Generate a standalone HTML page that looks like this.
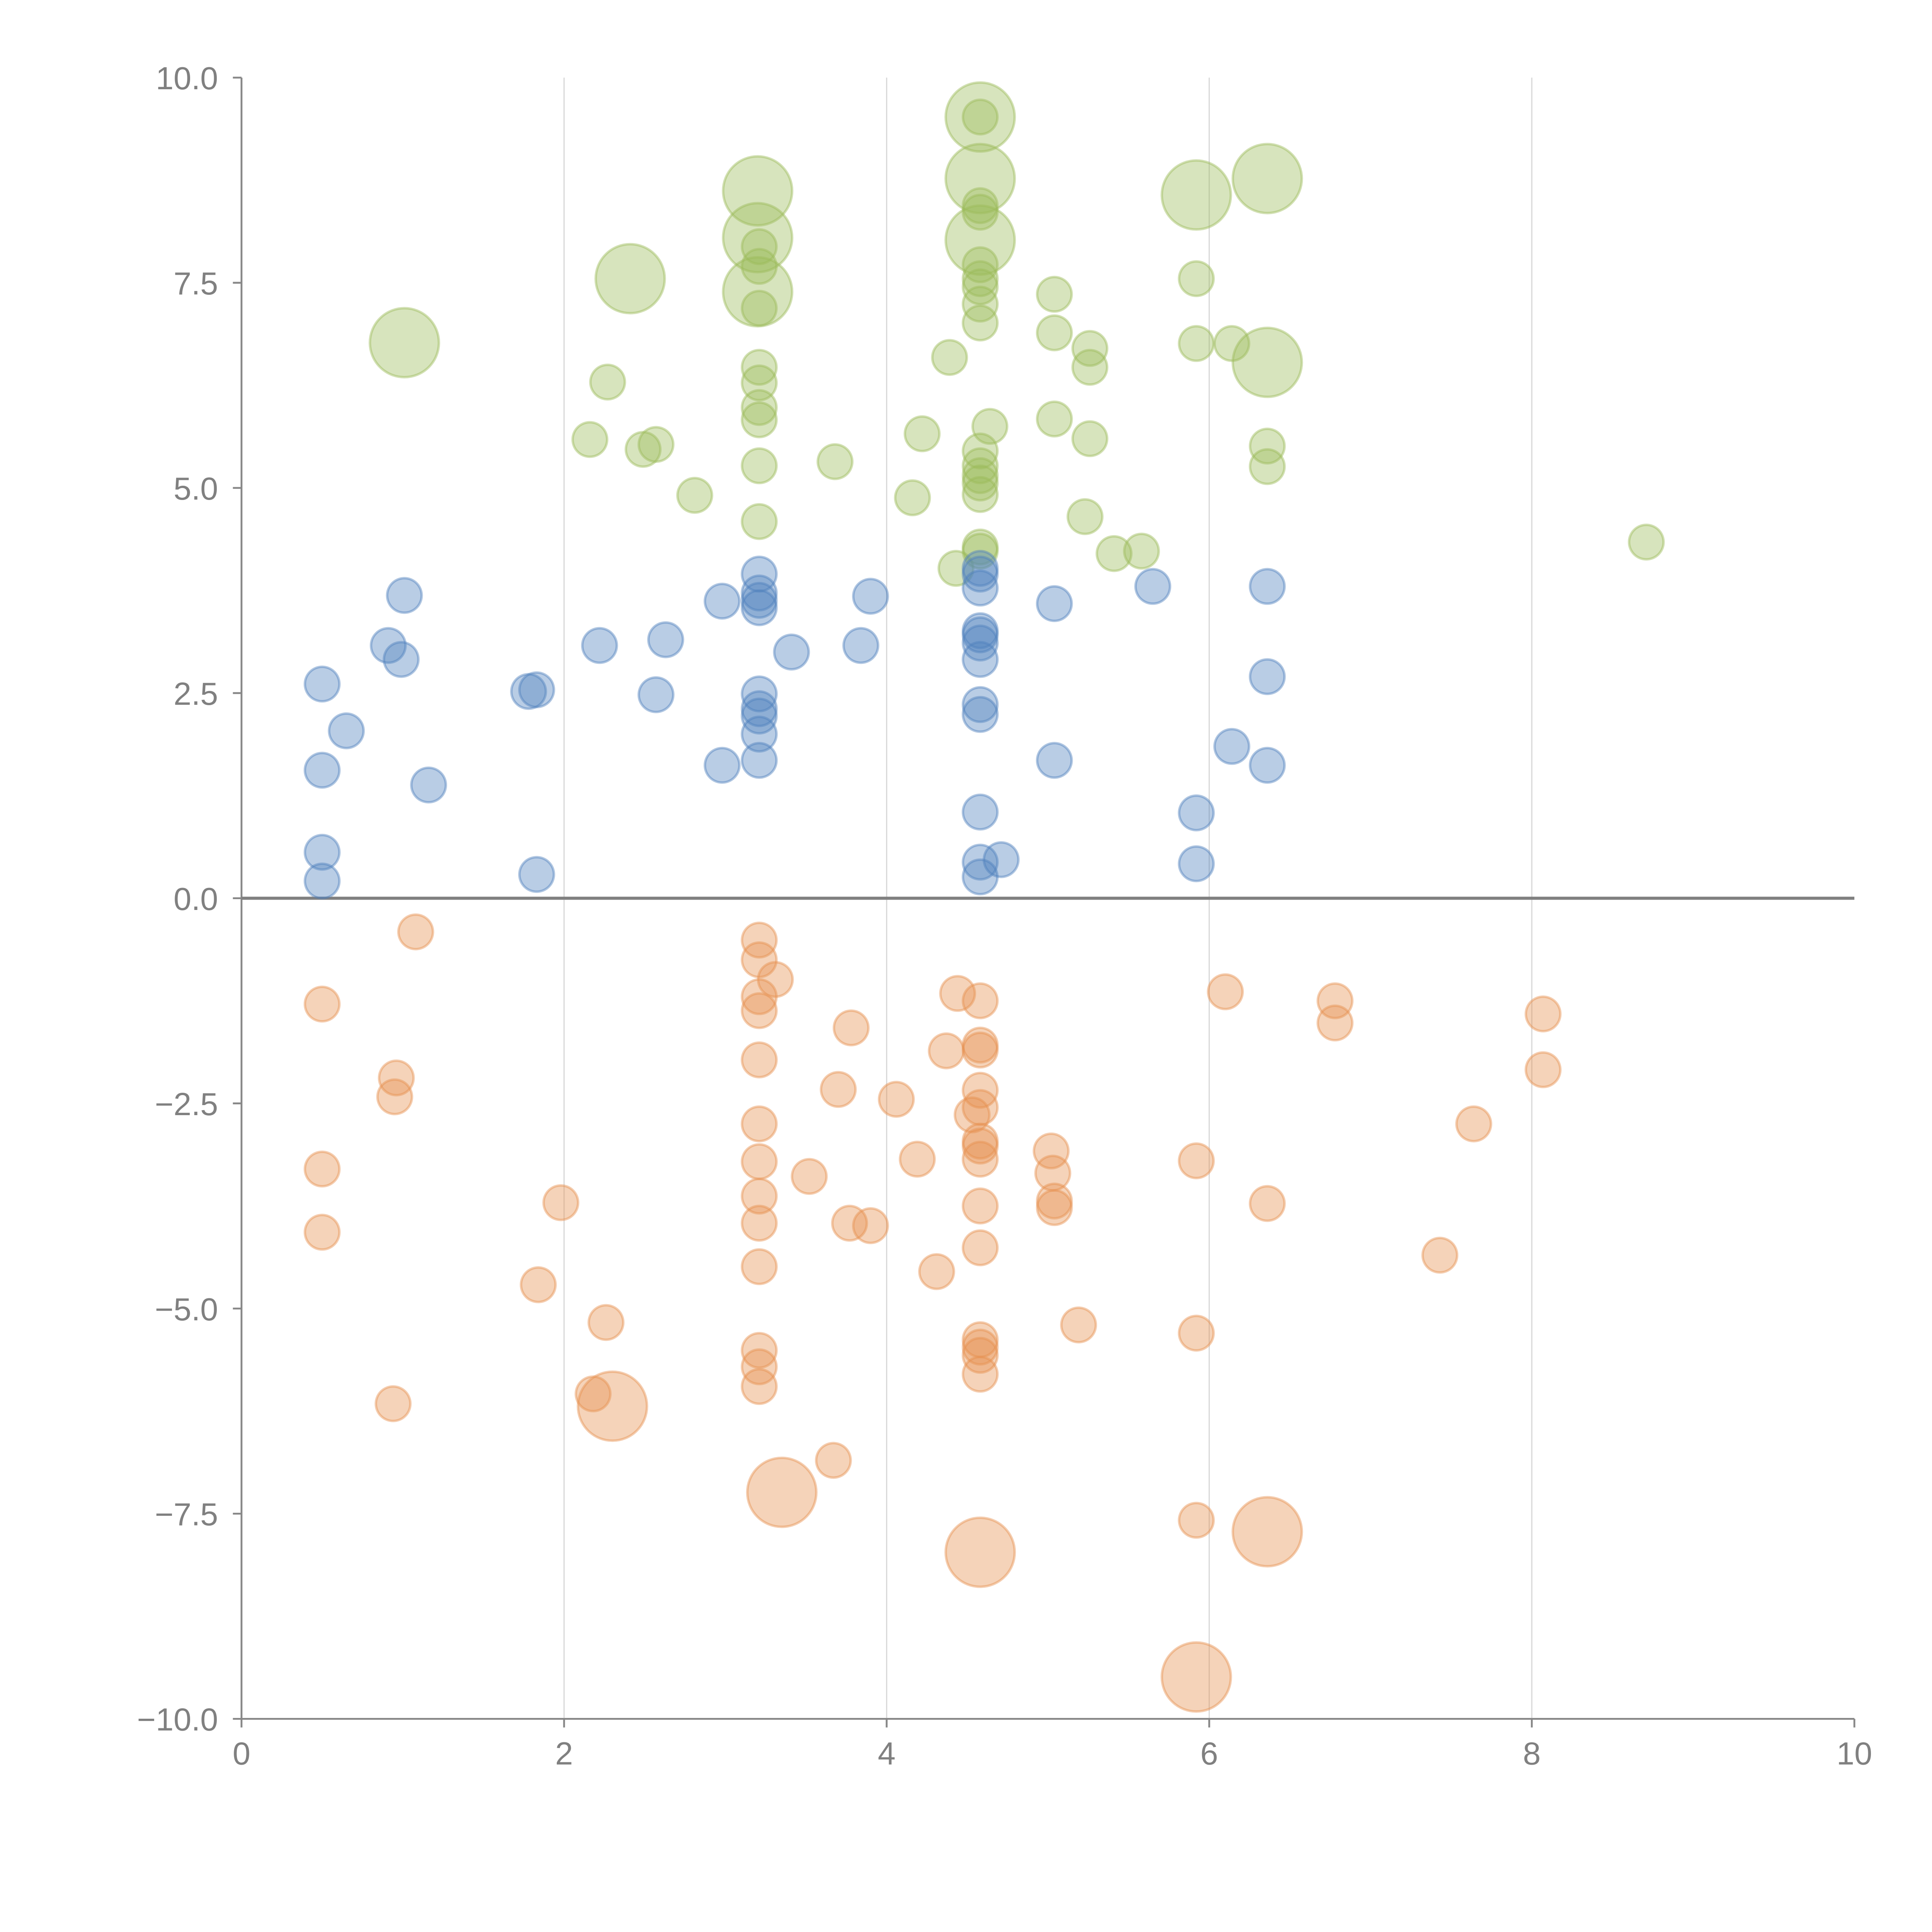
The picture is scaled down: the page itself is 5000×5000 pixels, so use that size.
<!DOCTYPE html>
<html><head><meta charset="utf-8"><style>
html,body{margin:0;padding:0;background:#fff;}
svg{display:block;font-family:"Liberation Sans",sans-serif;}
</style></head><body>
<svg id="chart" width="5000" height="5000" viewBox="0 0 1568 1568" xmlns="http://www.w3.org/2000/svg">
<g id="grid"></g>
<g id="axes"></g>
<g id="marks"></g>
</svg>
<script>
const xTicks = [0, 2, 4, 6, 8, 10];
const yTicks = [10, 7.5, 5, 2.5, 0, -2.5, -5, -7.5, -10];
const yTickLabels = ["10.0", "7.5", "5.0", "2.5", "0.0", "\u22122.5", "\u22125.0", "\u22127.5", "\u221210.0"];

const greenX = [1.01,2.27,2.16,2.49,2.57,2.41,2.81,3.2,3.2,3.2,3.21,3.21,3.21,3.21,3.21,3.21,3.21,3.21,3.21,3.68,4.16,4.22,4.39,4.43,4.58,4.58,4.58,4.58,4.58,4.58,4.58,4.58,4.58,4.58,4.58,4.58,4.58,4.58,4.58,4.58,4.58,4.58,4.64,5.04,5.04,5.04,5.23,5.26,5.26,5.26,5.41,5.58,5.92,5.92,5.92,6.14,6.36,6.36,6.36,6.36,8.71];
const greenY = [6.77,6.29,5.59,5.47,5.53,7.55,4.91,8.62,8.05,7.39,7.94,7.70,7.19,6.47,6.28,5.98,5.83,5.27,4.59,5.32,4.88,5.66,6.59,4.02,9.52,9.52,8.77,8.02,8.44,8.36,7.72,7.55,7.45,7.24,7.01,5.45,5.27,5.15,5.06,4.92,4.28,4.23,5.75,7.36,6.89,5.84,4.65,6.70,6.47,5.60,4.20,4.23,7.55,6.76,8.57,6.76,8.77,6.53,5.51,5.26,4.34];
const greenS = [2,1,1,1,1,2,1,2,2,2,1,1,1,1,1,1,1,1,1,1,1,1,1,1,2,1,2,2,1,1,1,1,1,1,1,1,1,1,1,1,1,1,1,1,1,1,1,1,1,1,1,1,1,1,2,1,2,2,1,1,1];

const blueX = [0.5,0.5,0.5,0.5,0.65,0.91,0.99,1.01,1.16,1.78,1.83,1.83,2.22,2.57,2.63,2.98,2.98,3.21,3.21,3.21,3.21,3.21,3.21,3.21,3.21,3.21,3.41,3.84,3.90,4.58,4.58,4.58,4.58,4.58,4.58,4.58,4.58,4.58,4.58,4.58,4.58,4.71,5.04,5.04,5.65,5.92,5.92,6.14,6.36,6.36,6.36];
const blueY = [2.61,1.56,0.56,0.21,2.04,3.08,2.91,3.69,1.38,2.52,2.54,0.29,3.08,2.48,3.15,3.62,1.62,3.95,3.72,3.63,3.54,2.49,2.31,2.22,2.0,1.68,3.0,3.08,3.68,4.02,3.95,3.78,3.26,3.21,3.11,2.91,2.36,2.24,1.05,0.44,0.26,0.47,3.59,1.68,3.80,1.04,0.42,1.85,3.80,2.70,1.62];
const blueS = blueX.map(() => 1);

const orangeX = [1.08,0.5,0.96,0.95,0.5,0.5,0.94,1.98,1.84,2.26,2.18,2.30,3.21,3.21,3.31,3.21,3.21,3.21,3.21,3.21,3.21,3.21,3.21,3.21,3.21,3.21,3.35,3.52,3.67,3.70,3.78,3.77,3.90,4.06,4.19,4.31,4.37,4.44,4.53,4.58,4.58,4.58,4.58,4.58,4.58,4.58,4.58,4.58,4.58,4.58,4.58,4.58,4.58,4.58,5.02,5.03,5.04,5.04,5.19,5.92,5.92,5.92,5.92,6.10,6.36,6.36,6.78,6.78,7.43,7.64,8.07,8.07];
const orangeY = [-0.41,-1.29,-2.19,-2.42,-3.30,-4.07,-6.16,-3.71,-4.71,-5.17,-6.04,-6.19,-0.51,-0.75,-0.99,-1.20,-1.37,-1.97,-2.75,-3.21,-3.63,-3.96,-4.49,-5.51,-5.71,-5.95,-7.24,-3.39,-6.85,-2.33,-1.58,-3.96,-3.99,-2.45,-3.18,-4.55,-1.86,-1.16,-2.64,-1.25,-1.79,-1.85,-2.34,-2.55,-2.96,-3.02,-3.18,-3.75,-4.26,-5.38,-5.47,-5.57,-5.80,-7.97,-3.08,-3.35,-3.69,-3.77,-5.20,-3.20,-5.30,-7.58,-9.49,-1.14,-3.72,-7.72,-1.25,-1.52,-4.35,-2.75,-1.41,-2.09];
const orangeS = [1,1,1,1,1,1,1,1,1,1,1,2,1,1,1,1,1,1,1,1,1,1,1,1,1,1,2,1,1,1,1,1,1,1,1,1,1,1,1,1,1,1,1,1,1,1,1,1,1,1,1,1,1,2,1,1,1,1,1,1,1,1,2,1,1,2,1,1,1,1,1,1];

const X0 = 196, X1 = 1505, Y0 = 1395, Y1 = 63;
function sx(v) { return X0 + (v - 0) / 10 * (X1 - X0); }
function sy(v) { return Y0 - (v + 10) / 20 * (Y0 - Y1); }
function rad(s) { return s === 2 ? 28 : 14; }
const NS = "http://www.w3.org/2000/svg";
function mk(tag, attrs, parent) {
  const el = document.createElementNS(NS, tag);
  for (const k in attrs) el.setAttribute(k, attrs[k]);
  parent.appendChild(el);
  return el;
}
const grid = document.getElementById('grid');
const axes = document.getElementById('axes');
const marks = document.getElementById('marks');

xTicks.forEach((t, i) => {
  if (t > 0 && t < 10) {
    const g = mk('line', {x1: sx(t), x2: sx(t), y1: Y1, y2: Y0, stroke: '#d9d9d9', 'stroke-width': 1}, grid);
    
    
  }
  const tk = mk('line', {x1: sx(t), x2: sx(t), y1: Y0, y2: Y0 + 7, stroke: '#888', 'stroke-width': 1.5}, axes);
  
  
  const lb = mk('text', {x: sx(t), y: Y0 + 37, 'text-anchor': 'middle', 'font-size': 26, fill: '#808080'}, axes);
  lb.textContent = String(t);
  
  
});
yTicks.forEach((t, i) => {
  const tk = mk('line', {x1: X0 - 7, x2: X0, y1: sy(t), y2: sy(t), stroke: '#888', 'stroke-width': 1.5}, axes);
  
  
  const lb = mk('text', {x: X0 - 19, y: sy(t) + 9.5, 'text-anchor': 'end', 'font-size': 26, fill: '#808080'}, axes);
  lb.textContent = yTickLabels[i];
  
  
});
const ya = mk('line', {x1: X0, x2: X0, y1: Y1, y2: Y0, stroke: '#888', 'stroke-width': 1.5}, axes);


const xa = mk('line', {x1: X0, x2: X1, y1: Y0, y2: Y0, stroke: '#888', 'stroke-width': 1.5}, axes);


const zl = mk('line', {x1: X0, x2: X1, y1: sy(0), y2: sy(0), stroke: '#808080', 'stroke-width': 2.5}, axes);



function drawSeries(xs, ys, ss, fill, name) {
  for (let i = 0; i < xs.length; i++) {
    const c = mk('circle', {cx: sx(xs[i]), cy: sy(ys[i]), r: rad(ss[i]), fill: fill, 'fill-opacity': 0.4, stroke: fill, 'stroke-opacity': 0.45, 'stroke-width': 2}, marks);
    
    
  }
}
drawSeries(greenX, greenY, greenS, 'rgb(155,187,89)', 'green-bubble');
drawSeries(blueX, blueY, blueS, 'rgb(79,129,189)', 'blue-bubble');
drawSeries(orangeX, orangeY, orangeS, 'rgb(230,145,80)', 'orange-bubble');
</script>
</body></html>
